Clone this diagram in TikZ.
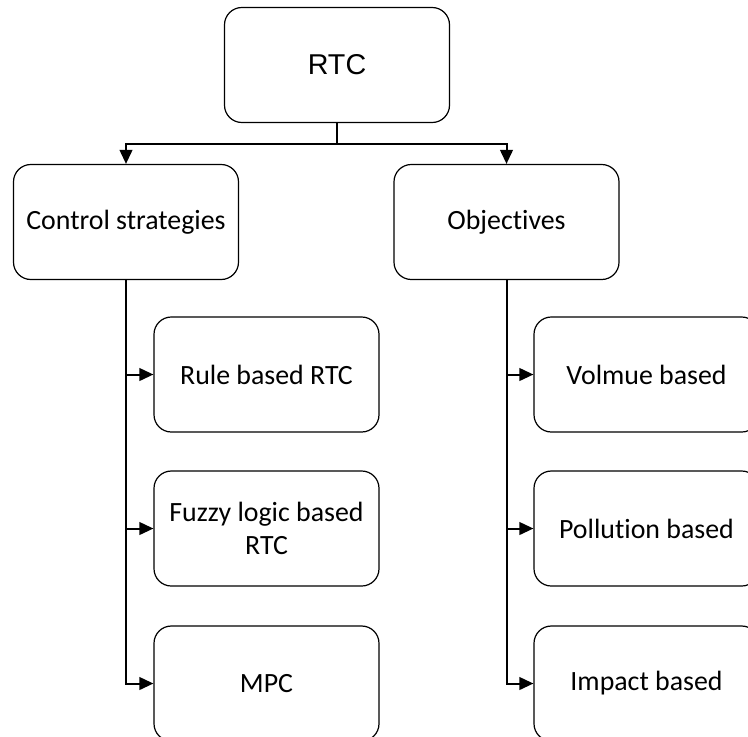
\documentclass[tikz,border=0pt]{standalone}
\usepackage{fontspec}
\setmainfont{Carlito}[Ligatures={NoCommon}]
\newfontfamily\arialf{Liberation Sans}
\usetikzlibrary{arrows.meta}
\begin{document}
\begin{tikzpicture}[x=0.75pt,y=-0.75pt,
  box/.style={draw=black, line width=0.9pt, rounded corners=13pt, minimum width=168.75pt, minimum height=86.25pt, inner sep=0pt, align=center, font=\fontsize{20.9}{24.7}\selectfont},
  conn/.style={draw=black, line width=1.5pt},
  arr/.style={conn, -{Triangle[length=10.5pt,width=9.5pt]}}]
\useasboundingbox (0,0) rectangle (748,736);
\clip (0,0) rectangle (748,736);
\fill[white] (0,0) rectangle (748,736);
\node[box, font=\arialf\fontsize{21.5}{25}\selectfont] (rtc) at (337,65) {RTC};
\node[box] (ctrl) at (126,222) {Control strategies};
\node[box] (obj) at (506.5,222) {Objectives};
\node[box] (rule) at (266.5,374.5) {Rule based RTC};
\node[box] (fuzzy) at (266.5,528.5) {Fuzzy logic based\\RTC};
\node[box] (mpc) at (266.5,683.5) {MPC};
\node[box] (vol) at (646.5,374.5) {Volmue based};
\node[box] (pol) at (646.5,528.5) {Pollution based};
\node[box] (imp) at (646.5,683.5) {Impact based};
\coordinate (j) at (337,144);
\draw[conn] (rtc.south) -- (j);
\draw[arr] (j) -| (ctrl.north);
\draw[arr] (j) -| (obj.north);
\draw[arr] (ctrl.south) |- (rule.west);
\draw[arr] (ctrl.south) |- (fuzzy.west);
\draw[arr] (ctrl.south) |- (mpc.west);
\draw[arr] (obj.south) |- (vol.west);
\draw[arr] (obj.south) |- (pol.west);
\draw[arr] (obj.south) |- (imp.west);
\end{tikzpicture}
\end{document}
